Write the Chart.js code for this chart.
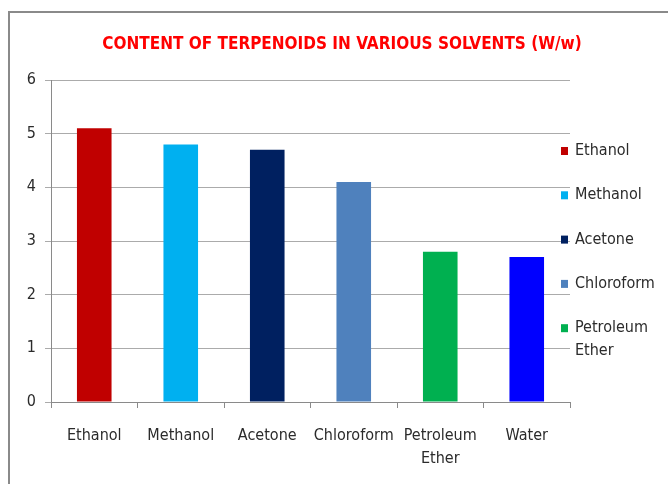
<!DOCTYPE html>
<html>
<head>
<meta charset="utf-8">
<script src="https://cdn.jsdelivr.net/npm/chart.js@4"></script>
<style>
  html, body { margin: 0; padding: 0; background: #fff; }
  #frame {
    position: absolute; left: 8px; top: 11px; width: 700px; height: 500px;
    border-left: 2px solid #8a8a8a; border-top: 2px solid #8a8a8a;
  }
  #wrap { position: absolute; left: 0; top: 0; width: 668px; height: 484px; }
</style>
</head>
<body>
<div id="frame"></div>
<div id="wrap"><canvas id="chart" width="668" height="484"></canvas></div>
<script>
const title = 'CONTENT OF TERPENOIDS IN VARIOUS SOLVENTS (W/w)'
const categories = ['Ethanol', 'Methanol', 'Acetone', 'Chloroform', 'Petroleum Ether', 'Water']
const values = [5.1, 4.8, 4.7, 4.1, 2.8, 2.7]
const colors = ['#c00000', '#00b0f0', '#002060', '#4f81bd', '#00b050', '#0000ff']
const yTicks = [0, 1, 2, 3, 4, 5, 6]
// the legend in the reference is cut off after five entries
const legendCount = 5

const FONT = '"DejaVu Sans Condensed", "Liberation Sans", sans-serif'
const TEXT = '#2b2b2b'

function splitLabel(s) {
  return s.length > 10 ? s.split(' ') : s
}

const titleAndLegend = {
  id: 'titleAndLegend',
  afterDraw(chart) {
    const ctx = chart.ctx
    ctx.save()
    ctx.fillStyle = '#ff0000'
    ctx.font = 'bold 17px ' + FONT
    ctx.textAlign = 'center'
    ctx.textBaseline = 'middle'
    ctx.fillText(title, 342, 45)

    ctx.font = '16px ' + FONT
    ctx.textAlign = 'left'
    categories.slice(0, legendCount).forEach((name, i) => {
      const y = 151 + i * 44.3
      ctx.fillStyle = colors[i]
      ctx.fillRect(561, y - 4, 7, 8)
      ctx.fillStyle = TEXT
      const lines = [].concat(splitLabel(name))
      lines.forEach((line, j) => ctx.fillText(line, 575, y + j * 23))
    })
    ctx.restore()
  },
}

new Chart(document.getElementById('chart'), {
  type: 'bar',
  data: {
    labels: categories.map(splitLabel),
    datasets: [{
      data: values,
      backgroundColor: colors,
      borderWidth: 0,
      categoryPercentage: 1,
      barPercentage: 0.4,
    }],
  },
  options: {
    responsive: false,
    animation: false,
    layout: { padding: { top: 80, right: 98, left: 0, bottom: 0 } },
    plugins: {
      legend: { display: false },
      title: { display: false },
      tooltip: { enabled: false },
    },
    scales: {
      x: {
        offset: true,
        grid: {
          offset: true,
          drawOnChartArea: false,
          color: '#8a8a8a',
          tickLength: 6,
        },
        border: { color: '#8a8a8a' },
        ticks: {
          color: TEXT,
          font: { family: FONT, size: 16, lineHeight: 1.45 },
          padding: 16,
          maxRotation: 0,
          autoSkip: false,
        },
        afterFit: s => { s.height = 82 },
      },
      y: {
        min: 0,
        max: 6,
        afterBuildTicks: s => { s.ticks = yTicks.map(v => ({ value: v })) },
        grid: { color: '#ababab', tickLength: 6 },
        border: { color: '#8a8a8a' },
        ticks: {
          color: TEXT,
          font: { family: FONT, size: 16 },
          padding: 9,
        },
        afterFit: s => { s.width = 51 },
      },
    },
  },
  plugins: [titleAndLegend],
})
</script>
</body>
</html>
